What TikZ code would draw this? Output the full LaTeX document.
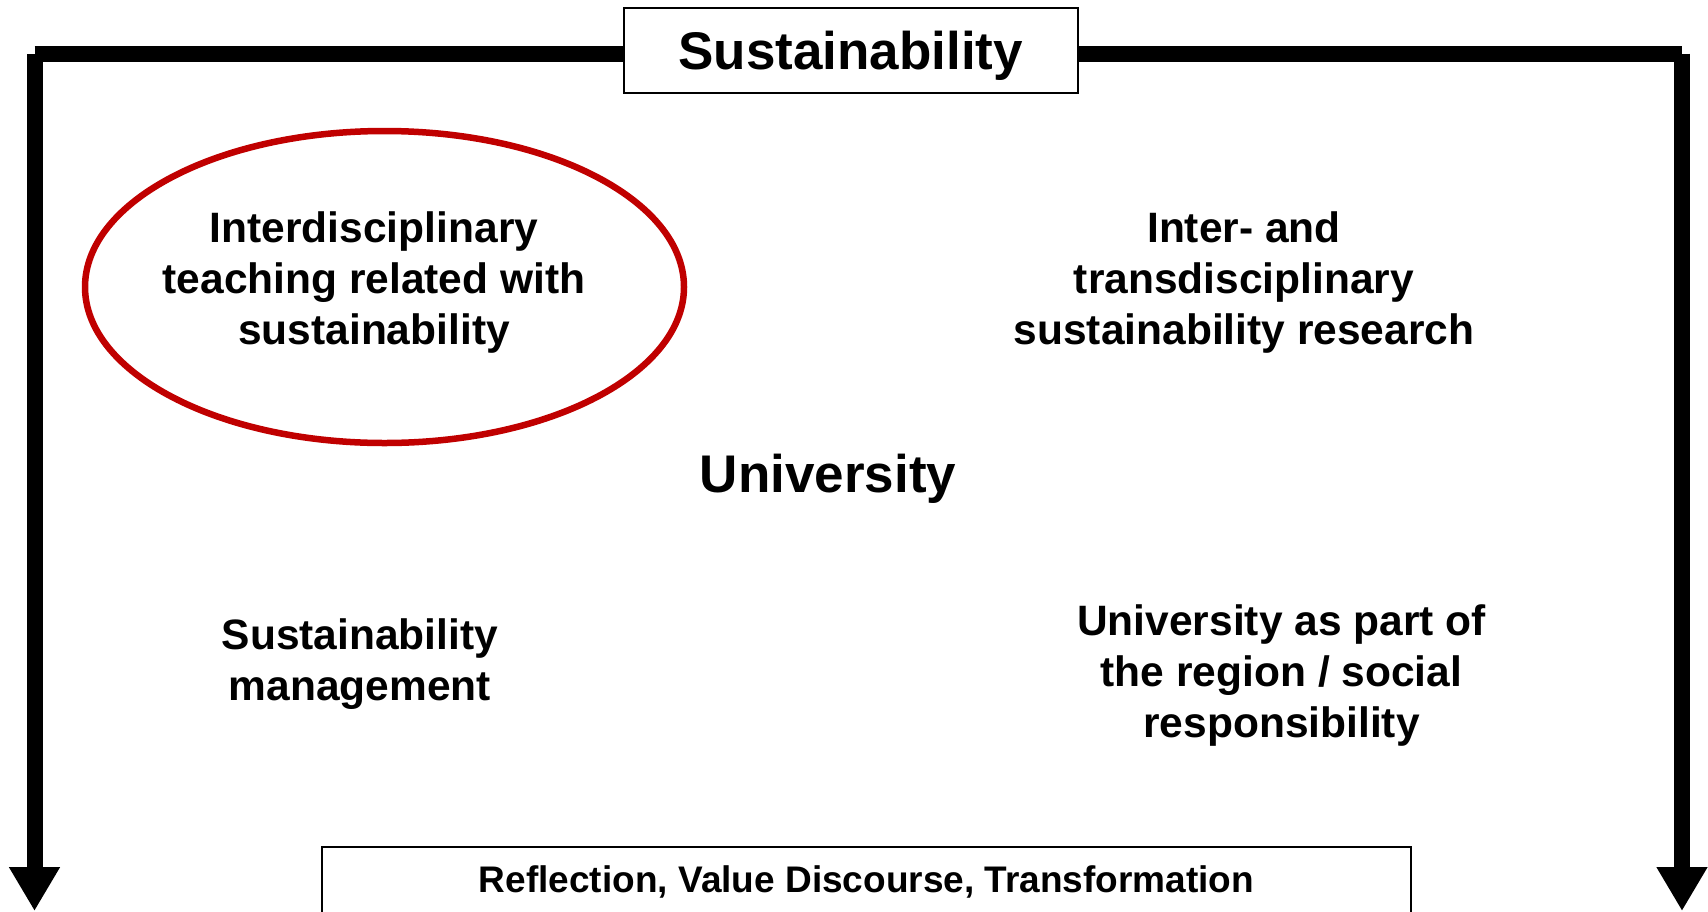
\documentclass[tikz,border=0pt]{standalone}
\usepackage{fontspec}
\setmainfont{Liberation Sans}
\usetikzlibrary{arrows.meta,shapes.geometric}
\definecolor{ringred}{HTML}{C00000}
\begin{document}
\begin{tikzpicture}[x=1pt,y=-1pt,
  bar/.style={line width=16pt,line cap=butt},
  arrowbar/.style={bar,-{Triangle[length=44pt,width=48pt]}},
  fieldtext/.style={font=\bfseries\fontsize{42.5}{51}\selectfont,align=center,inner sep=0pt},
  bigtext/.style={font=\bfseries\fontsize{53}{60}\selectfont,inner sep=0pt}]
\useasboundingbox (0,0) rectangle (1708,911);

% title box on the frame
\node[draw,line width=1.5pt,bigtext,minimum width=454pt,
      text height=62pt,text depth=23pt,anchor=north west] (title) at (623,7) {Sustainability};

% frame corners and arrow ends
\coordinate (cL) at (34.5,53.5);
\coordinate (cR) at (1682,53.5);
\coordinate (aL) at (34.5,911);
\coordinate (aR) at (1682,911);

\draw[bar] (cL) -- (cL -| title.west);
\draw[bar] (cR) -- (cR -| title.east);
\draw[arrowbar] (cL) -- (aL);
\draw[arrowbar] (cR) -- (aR);

% four fields around the university
\node[draw=ringred,line width=6.5pt,ellipse,minimum width=599pt,minimum height=312pt,inner sep=0pt] (ring) at (384.5,287) {};
\node[fieldtext] (teach) at (374,282.5) {Interdisciplinary\\teaching related with\\sustainability};
\node[fieldtext] (research) at (1244,282.5) {Inter- and\\transdisciplinary\\sustainability research};
\node[bigtext] (uni) at (828,478.5) {University};
\node[fieldtext] (mgmt) at (360,664.5) {Sustainability\\management};
\node[fieldtext] (region) at (1281.5,675.5) {University as part of\\the region / social\\responsibility};

% bottom box
\node[draw,line width=2pt,inner sep=0pt,minimum width=1089pt,
      text height=45pt,text depth=40pt,anchor=north,
      font=\bfseries\fontsize{37}{44}\selectfont] (refl) at (866.5,846) {Reflection, Value Discourse, Transformation};
\end{tikzpicture}
\end{document}
